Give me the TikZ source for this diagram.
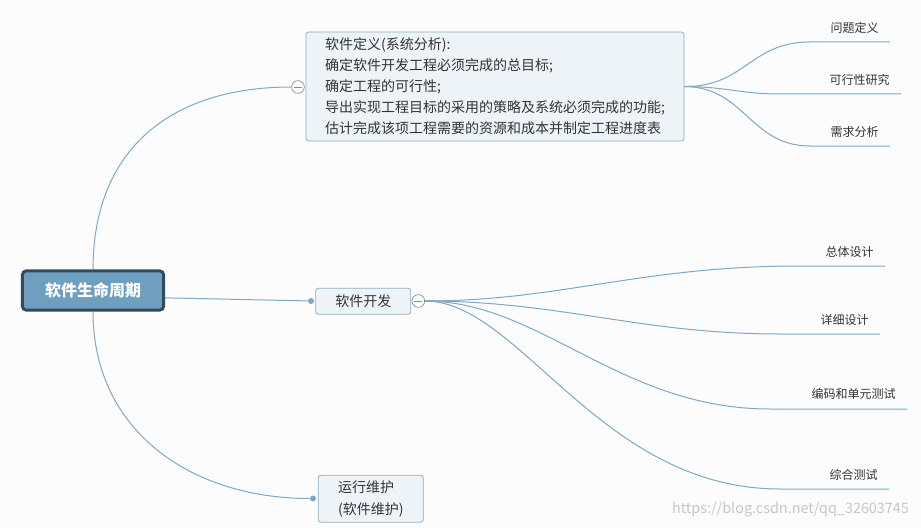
\documentclass[tikz,border=0pt]{standalone}
\usepackage{fontspec}
\setmainfont{Noto Sans CJK SC}
\usetikzlibrary{positioning}

\definecolor{bgcol}{HTML}{FCFCFC}
\definecolor{linecol}{HTML}{7FA7C6}
\definecolor{rootfill}{HTML}{6F9FBF}
\definecolor{rootdraw}{HTML}{344A5C}
\definecolor{boxfill}{HTML}{EEF3F8}
\definecolor{boxdraw}{HTML}{8DAFC7}
\definecolor{txt}{HTML}{333333}
\definecolor{foldcol}{HTML}{888888}

\tikzset{
  rootbox/.style={draw=rootdraw, line width=2.2pt, fill=rootfill, rounded corners=3pt,
    minimum width=106pt, minimum height=29.5pt, text=white,
    font=\bfseries\fontsize{12}{14}\selectfont},
  topicbox/.style={draw=boxdraw, line width=0.6pt, fill=boxfill, rounded corners=2pt,
    text=txt, font=\fontsize{10.5}{15.7}\selectfont, inner sep=0pt},
  leaf/.style={anchor=east, inner xsep=8.25pt, inner ysep=0pt, text=txt,
    font=\fontsize{9}{10}\selectfont},
  link/.style={draw=linecol, line width=0.75pt},
  fold/.style={circle, draw=foldcol, fill=white, line width=0.5pt, minimum size=9.5pt,
    inner sep=0pt, path picture={\draw[foldcol, line width=0.5pt]
      ([xshift=1.8pt]path picture bounding box.west) -- ([xshift=-1.8pt]path picture bounding box.east);}},
  dot/.style={circle, fill=linecol, minimum size=4.5pt, inner sep=0pt}
}

\begin{document}
\begin{tikzpicture}[x=0.75pt,y=-0.75pt]
  \fill[bgcol] (0,0) rectangle (921,528);
  \useasboundingbox (0,0) rectangle (921,528);

  % main topic and its three branches
  \node[rootbox] (root) at (93,290.5) {软件生命周期};
  \node[topicbox, align=left, minimum width=283.5pt, minimum height=81.75pt] (define) at (495,86.5)
    {软件定义(系统分析):\\确定软件开发工程必须完成的总目标;\\确定工程的可行性;\\导出实现工程目标的采用的策略及系统必须完成的功能;\\估计完成该项工程需要的资源和成本并制定工程进度表};
  \node[fold] (foldA) at (298,87) {};
  \node[topicbox, minimum width=71.25pt, minimum height=19.5pt] (develop) at (363.3,301.3) {软件开发};
  \node[fold] (foldB) at (418.3,301) {};
  \node[dot] (dotB) at (311,301) {};
  \node[topicbox, align=left, minimum width=78.75pt, minimum height=35.25pt, font=\fontsize{10.5}{16.5}\selectfont] (maintain) at (370.8,498.7)
    {运行维护\\(软件维护)};
  \node[dot] (dotC) at (313,498.5) {};

  \draw[link] (root.north) .. controls (93,150) and (170,87) .. (foldA.west);
  \draw[link] ([yshift=-5.5pt]root.east) -- (dotB);
  \draw[link] (root.south) .. controls (93,430) and (190,498.5) .. (dotC);

  % leaves of the definition step
  \node[leaf] (problem) at (890,28) {问题定义};
  \node[leaf] (feasible) at (901,80) {可行性研究};
  \node[leaf] (demand) at (890,132) {需求分析};
  \coordinate (ep) at (810,42);
  \coordinate (ef) at (780,94);
  \coordinate (ed) at (810,146);
  \draw[link] (define.east) .. controls (745,87) and (750,42) .. (ep) -- (ep -| problem.east);
  \draw[link] (define.east) .. controls (730,87) and (740,94) .. (ef) -- (ef -| feasible.east);
  \draw[link] (define.east) .. controls (745,87) and (750,146) .. (ed) -- (ed -| demand.east);

  % leaves of the development step
  \node[leaf] (overall) at (885,251.7) {总体设计};
  \node[leaf] (detail) at (880,320) {详细设计};
  \node[leaf] (coding) at (907,394) {编码和单元测试};
  \node[leaf] (integrate) at (889,475) {综合测试};
  \coordinate (eo) at (800,266);
  \coordinate (ei) at (780,334);
  \coordinate (ec) at (770,409);
  \coordinate (eg) at (780,489);
  \draw[link] (foldB.east) .. controls (560,301) and (640,266) .. (eo) -- (eo -| overall.east);
  \draw[link] (foldB.east) .. controls (560,301) and (640,334) .. (ei) -- (ei -| detail.east);
  \draw[link] (foldB.east) .. controls (540,301) and (620,409) .. (ec) -- (ec -| coding.east);
  \draw[link] (foldB.east) .. controls (520,301) and (600,489) .. (eg) -- (eg -| integrate.east);

  \node[text=black!22, font=\fontsize{10.8}{12}\selectfont, inner sep=0pt] (mark) at (790.5,510) {https://blog.csdn.net/qq\_32603745};
\end{tikzpicture}
\end{document}
